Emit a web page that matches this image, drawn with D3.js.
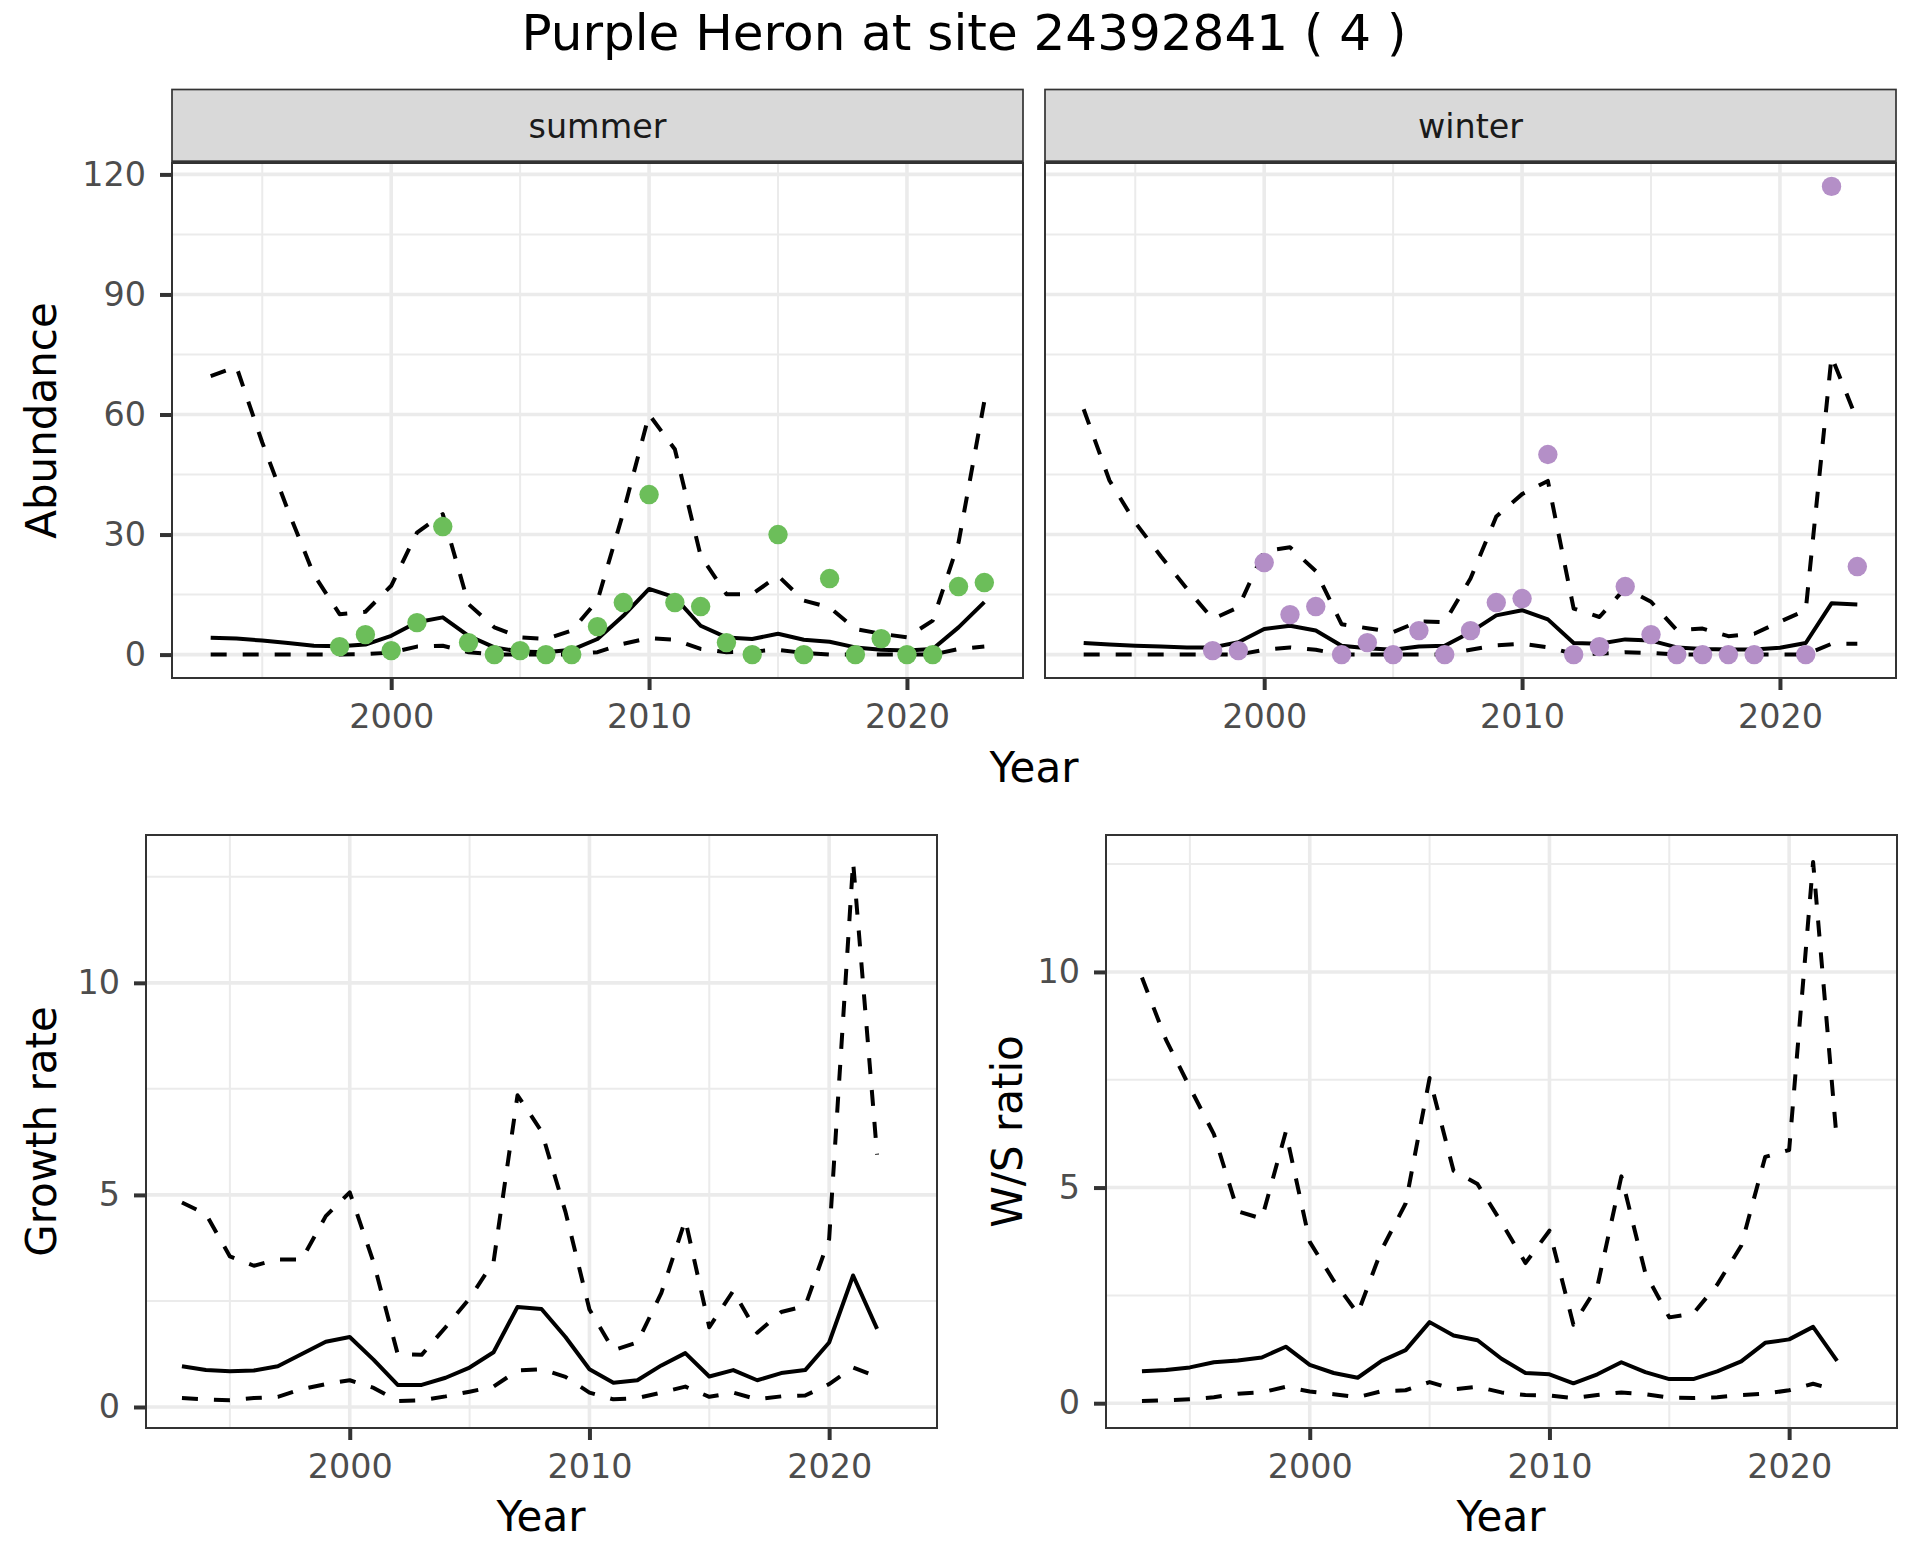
<!DOCTYPE html>
<html>
<head>
<meta charset="utf-8">
<script src="https://cdn.jsdelivr.net/npm/d3@7"></script>
<style>
  body { margin: 0; background: #fff; }
  svg { display: block; font-family: "DejaVu Sans", sans-serif; }
</style>
</head>
<body>
<div id="chart"></div>
<script>
// ---- data ----
var years = [1993, 1994, 1995, 1996, 1997, 1998, 1999, 2000, 2001, 2002,
             2003, 2004, 2005, 2006, 2007, 2008, 2009, 2010, 2011, 2012,
             2013, 2014, 2015, 2016, 2017, 2018, 2019, 2020, 2021, 2022, 2023];

var summerUpper = [69.6, 71.9, 53, 36, 20, 10.1, 10.7, 17.2, 30.5, 35.1,
                   12.6, 6.8, 4.3, 3.9, 6.0, 13.5, 35.5, 60.0, 51.3, 24.7,
                   15.1, 15.1, 19.7, 13.5, 11.8, 6.4, 5.2, 4.3, 8.5, 28.0, 63.3];
var summerMid   = [4.2, 4.0, 3.5, 2.9, 2.2, 2.1, 2.5, 4.7, 8.1, 9.3,
                   4.7, 1.8, 0.75, 0.6, 1.2, 3.9, 9.7, 16.4, 14.3, 7.2,
                   4.3, 3.9, 5.2, 3.7, 3.2, 1.8, 1.2, 1.0, 1.4, 6.8, 13.1];
var summerLower = [0, 0, 0, 0, 0, 0, 0.1, 0.5, 2.0, 2.2,
                   0.6, 0, 0, 0, 0, 0.6, 2.7, 4.1, 3.7, 1.4,
                   0.6, 0.8, 1.2, 0.4, 0, 0, 0, 0, 0, 1.4, 2.0];

var winterUpper = [61.3, 43.5, 33.0, 24.5, 16.5, 8.9, 11.8, 25.9, 26.8, 20.9,
                   7.6, 6.6, 5.6, 8.3, 8.1, 19.0, 34.5, 40.1, 43.4, 11.5,
                   9.4, 16.6, 13.2, 6.1, 6.5, 4.6, 5.2, 8.2, 11.1, 74.5, 58.5];
var winterMid   = [2.9, 2.5, 2.2, 2.0, 1.8, 1.8, 3.1, 6.4, 7.2, 6.0,
                   2.2, 1.6, 1.2, 2.0, 2.2, 5.6, 9.8, 11.1, 8.8, 2.9,
                   2.7, 3.8, 3.5, 1.8, 1.4, 1.3, 1.3, 1.7, 2.9, 12.8, 12.5];
var winterLower = [0, 0, 0, 0, 0, 0, 0, 1.2, 1.8, 1.2,
                   0, 0, 0, 0, 0, 1.2, 2.3, 2.7, 1.8, 0.2,
                   0.2, 0.6, 0.4, 0, 0, 0, 0, 0, 0, 2.7, 2.7];

var summerCountYears = [1998, 1999, 2000, 2001, 2002, 2003, 2004, 2005, 2006, 2007,
                        2008, 2009, 2010, 2011, 2012, 2013, 2014, 2015, 2016, 2017,
                        2018, 2019, 2020, 2021, 2022, 2023];
var summerCounts     = [2, 5, 1, 8, 32, 3, 0, 1, 0, 0,
                        7, 13, 40, 13, 12, 3, 0, 30, 0, 19,
                        0, 4, 0, 0, 17, 18];

var winterCountYears = [1998, 1999, 2000, 2001, 2002, 2003, 2004, 2005, 2006, 2007,
                        2008, 2009, 2010, 2011, 2012, 2013, 2014, 2015, 2016, 2017,
                        2018, 2019, 2021, 2022, 2023];
var winterCounts     = [1, 1, 23, 10, 12, 0, 3, 0, 6, 0,
                        6, 13, 14, 50, 0, 2, 17, 5, 0, 0,
                        0, 0, 0, 117, 22];

var rateYears = [1993, 1994, 1995, 1996, 1997, 1998, 1999, 2000, 2001, 2002,
                 2003, 2004, 2005, 2006, 2007, 2008, 2009, 2010, 2011, 2012,
                 2013, 2014, 2015, 2016, 2017, 2018, 2019, 2020, 2021, 2022];

var growthUpper = [4.82, 4.55, 3.55, 3.33, 3.48, 3.48, 4.5, 5.06, 3.4, 1.25,
                   1.23, 1.88, 2.56, 3.42, 7.35, 6.5, 4.6, 2.3, 1.34, 1.52,
                   2.69, 4.41, 1.88, 2.74, 1.75, 2.24, 2.38, 3.96, 12.85, 5.95];
var growthMid   = [0.96, 0.87, 0.84, 0.86, 0.96, 1.25, 1.54, 1.65, 1.11, 0.52,
                   0.52, 0.69, 0.93, 1.29, 2.36, 2.31, 1.65, 0.89, 0.57, 0.63,
                   0.98, 1.27, 0.72, 0.87, 0.63, 0.80, 0.87, 1.52, 3.10, 1.84];
var growthLower = [0.21, 0.18, 0.16, 0.21, 0.24, 0.42, 0.54, 0.63, 0.45, 0.14,
                   0.16, 0.25, 0.36, 0.48, 0.86, 0.89, 0.71, 0.34, 0.18, 0.21,
                   0.34, 0.48, 0.24, 0.34, 0.18, 0.25, 0.27, 0.54, 0.93, 0.71];

var ratioUpper = [9.87, 8.43, 7.32, 6.24, 4.45, 4.28, 6.29, 3.74, 2.84, 2.08,
                  3.56, 4.63, 7.54, 5.39, 5.08, 4.19, 3.25, 4.0, 1.82, 2.71,
                  5.26, 3.02, 1.99, 2.08, 2.75, 3.65, 5.71, 5.87, 12.55, 6.02];
var ratioMid   = [0.74, 0.77, 0.83, 0.95, 0.99, 1.06, 1.31, 0.89, 0.70, 0.59,
                  0.98, 1.23, 1.88, 1.57, 1.46, 1.03, 0.70, 0.67, 0.46, 0.67,
                  0.95, 0.72, 0.56, 0.56, 0.74, 0.97, 1.40, 1.48, 1.77, 0.98];
var ratioLower = [0.05, 0.07, 0.09, 0.14, 0.22, 0.25, 0.38, 0.27, 0.21, 0.14,
                  0.28, 0.30, 0.49, 0.32, 0.38, 0.25, 0.19, 0.18, 0.12, 0.19,
                  0.25, 0.21, 0.13, 0.12, 0.14, 0.19, 0.22, 0.30, 0.45, 0.30];

var xBreaks      = [2000, 2010, 2020];
var xMinor       = [1995, 2005, 2015];
var abundBreaks  = [0, 30, 60, 90, 120];
var abundMinor   = [15, 45, 75, 105];
var rateBreaks   = [0, 5, 10];
var rateMinor    = [2.5, 7.5, 12.5];

var titleText = 'Purple Heron at site 24392841 ( 4 )';
</script>
<script>
(function () {
  'use strict';

  var COL = {
    grid:   '#ebebeb',
    border: '#333333',
    strip:  '#d9d9d9',
    tick:   '#4d4d4d',
    summer: '#6cbe5a',
    winter: '#b48fc7'
  };
  var FS_TICK = 33.4, FS_AXIS = 42, FS_TITLE = 50;

  var W = 1920, H = 1560;
  var svg = d3.select('#chart').append('svg')
    .attr('width', W).attr('height', H)
    .attr('viewBox', '0 0 ' + W + ' ' + H);
  svg.append('rect').attr('width', W).attr('height', H).attr('fill', '#fff');

  // ggplot-style 5% expansion
  function expand(ext, mult) {
    var d = (ext[1] - ext[0]) * mult;
    return [ext[0] - d, ext[1] + d];
  }

  var xDom = expand(d3.extent(years), 0.05);

  function drawPanel(p) {
    var x = d3.scaleLinear().domain(xDom).range([p.x0, p.x1]);
    var y = d3.scaleLinear().domain(p.yDom).range([p.y1, p.y0]);
    var g = svg.append('g');

    // minor grid
    p.xMinor.forEach(function (v) {
      g.append('line').attr('x1', x(v)).attr('x2', x(v)).attr('y1', p.y0).attr('y2', p.y1)
        .attr('stroke', COL.grid).attr('stroke-width', 2);
    });
    p.yMinor.forEach(function (v) {
      if (y(v) < p.y0 || y(v) > p.y1) return;
      g.append('line').attr('x1', p.x0).attr('x2', p.x1).attr('y1', y(v)).attr('y2', y(v))
        .attr('stroke', COL.grid).attr('stroke-width', 2);
    });
    // major grid
    xBreaks.forEach(function (v) {
      g.append('line').attr('x1', x(v)).attr('x2', x(v)).attr('y1', p.y0).attr('y2', p.y1)
        .attr('stroke', COL.grid).attr('stroke-width', 3.6);
    });
    p.yBreaks.forEach(function (v) {
      g.append('line').attr('x1', p.x0).attr('x2', p.x1).attr('y1', y(v)).attr('y2', y(v))
        .attr('stroke', COL.grid).attr('stroke-width', 3.6);
    });

    // lines
    var line = d3.line()
      .x(function (d) { return x(d[0]); })
      .y(function (d) { return y(d[1]); });
    p.lines.forEach(function (l) {
      g.append('path')
        .datum(d3.zip(l.yrs, l.vals))
        .attr('fill', 'none')
        .attr('stroke', '#000')
        .attr('stroke-width', 4)
        .attr('stroke-linejoin', 'round')
        .attr('stroke-dasharray', l.dash ? '16,16' : null)
        .attr('d', line);
    });

    // points
    if (p.points) {
      g.selectAll('circle.obs').data(d3.zip(p.points.yrs, p.points.vals)).join('circle')
        .attr('class', 'obs')
        .attr('cx', function (d) { return x(d[0]); })
        .attr('cy', function (d) { return y(d[1]); })
        .attr('r', 9.7)
        .attr('fill', p.points.color);
    }

    // panel border
    g.append('rect')
      .attr('x', p.x0).attr('y', p.y0)
      .attr('width', p.x1 - p.x0).attr('height', p.y1 - p.y0)
      .attr('fill', 'none').attr('stroke', COL.border).attr('stroke-width', 2);

    // x axis
    g.append('g')
      .attr('transform', 'translate(0,' + p.y1 + ')')
      .call(d3.axisBottom(x).tickValues(xBreaks).tickSize(12).tickPadding(14)
        .tickFormat(d3.format('d')))
      .call(function (ax) { ax.select('.domain').remove(); })
      .call(function (ax) {
        ax.selectAll('.tick line').attr('stroke', COL.border).attr('stroke-width', 4);
        ax.selectAll('text').attr('font-size', FS_TICK).attr('fill', COL.tick)
          .attr('font-family', '"DejaVu Sans", sans-serif');
      });

    // y axis
    if (p.showY) {
      g.append('g')
        .attr('transform', 'translate(' + p.x0 + ',0)')
        .call(d3.axisLeft(y).tickValues(p.yBreaks).tickSize(12).tickPadding(14)
          .tickFormat(d3.format('d')))
        .call(function (ax) { ax.select('.domain').remove(); })
        .call(function (ax) {
          ax.selectAll('.tick line').attr('stroke', COL.border).attr('stroke-width', 4);
          ax.selectAll('text').attr('font-size', FS_TICK).attr('fill', COL.tick)
            .attr('font-family', '"DejaVu Sans", sans-serif');
        });
    }

    // facet strip
    if (p.strip) {
      svg.append('rect')
        .attr('x', p.x0).attr('y', 89.5)
        .attr('width', p.x1 - p.x0).attr('height', 72)
        .attr('fill', COL.strip).attr('stroke', COL.border).attr('stroke-width', 1.7);
      svg.append('line')
        .attr('x1', p.x0).attr('x2', p.x1).attr('y1', 162).attr('y2', 162)
        .attr('stroke', COL.border).attr('stroke-width', 3);
      svg.append('text')
        .attr('x', (p.x0 + p.x1) / 2).attr('y', 138)
        .attr('text-anchor', 'middle').attr('font-size', FS_TICK).attr('fill', '#1a1a1a')
        .text(p.strip);
    }
  }

  function axisTitle(txt, xPos, yPos, rotate) {
    var t = svg.append('text')
      .attr('text-anchor', 'middle')
      .attr('font-size', FS_AXIS)
      .attr('fill', '#000')
      .text(txt);
    if (rotate) t.attr('transform', 'translate(' + xPos + ',' + yPos + ') rotate(-90)');
    else t.attr('x', xPos).attr('y', yPos);
  }

  // shared y domain for the abundance facets
  var abundDom = expand(d3.extent([].concat(summerUpper, summerMid, summerLower, summerCounts,
    winterUpper, winterMid, winterLower, winterCounts)), 0.05);
  var growthDom = expand(d3.extent([].concat(growthUpper, growthMid, growthLower)), 0.05);
  var ratioDom  = expand(d3.extent([].concat(ratioUpper, ratioMid, ratioLower)), 0.05);

  var TOP = { y0: 163, y1: 678 };
  var BOT = { y0: 835, y1: 1428 };

  drawPanel({
    x0: 172, x1: 1023, y0: TOP.y0, y1: TOP.y1, yDom: abundDom,
    yBreaks: abundBreaks, yMinor: abundMinor, xMinor: xMinor, showY: true, strip: 'summer',
    lines: [
      { yrs: years, vals: summerUpper, dash: true },
      { yrs: years, vals: summerMid,   dash: false },
      { yrs: years, vals: summerLower, dash: true }
    ],
    points: { yrs: summerCountYears, vals: summerCounts, color: COL.summer }
  });

  drawPanel({
    x0: 1045, x1: 1896, y0: TOP.y0, y1: TOP.y1, yDom: abundDom,
    yBreaks: abundBreaks, yMinor: abundMinor, xMinor: xMinor, showY: false, strip: 'winter',
    lines: [
      { yrs: years, vals: winterUpper, dash: true },
      { yrs: years, vals: winterMid,   dash: false },
      { yrs: years, vals: winterLower, dash: true }
    ],
    points: { yrs: winterCountYears, vals: winterCounts, color: COL.winter }
  });

  drawPanel({
    x0: 146, x1: 937, y0: BOT.y0, y1: BOT.y1, yDom: growthDom,
    yBreaks: rateBreaks, yMinor: rateMinor, xMinor: xMinor, showY: true,
    lines: [
      { yrs: rateYears, vals: growthUpper, dash: true },
      { yrs: rateYears, vals: growthMid,   dash: false },
      { yrs: rateYears, vals: growthLower, dash: true }
    ]
  });

  drawPanel({
    x0: 1106, x1: 1897, y0: BOT.y0, y1: BOT.y1, yDom: ratioDom,
    yBreaks: rateBreaks, yMinor: rateMinor, xMinor: xMinor, showY: true,
    lines: [
      { yrs: rateYears, vals: ratioUpper, dash: true },
      { yrs: rateYears, vals: ratioMid,   dash: false },
      { yrs: rateYears, vals: ratioLower, dash: true }
    ]
  });

  // titles
  svg.append('text')
    .attr('x', 964).attr('y', 50)
    .attr('text-anchor', 'middle').attr('font-size', FS_TITLE).attr('fill', '#000')
    .text(titleText);

  axisTitle('Year', 1034, 782, false);
  axisTitle('Year', 541, 1531, false);
  axisTitle('Year', 1501, 1531, false);
  axisTitle('Abundance', 56, (TOP.y0 + TOP.y1) / 2, true);
  axisTitle('Growth rate', 56, (BOT.y0 + BOT.y1) / 2, true);
  axisTitle('W/S ratio', 1022, (BOT.y0 + BOT.y1) / 2, true);
}());
</script>
</body>
</html>
